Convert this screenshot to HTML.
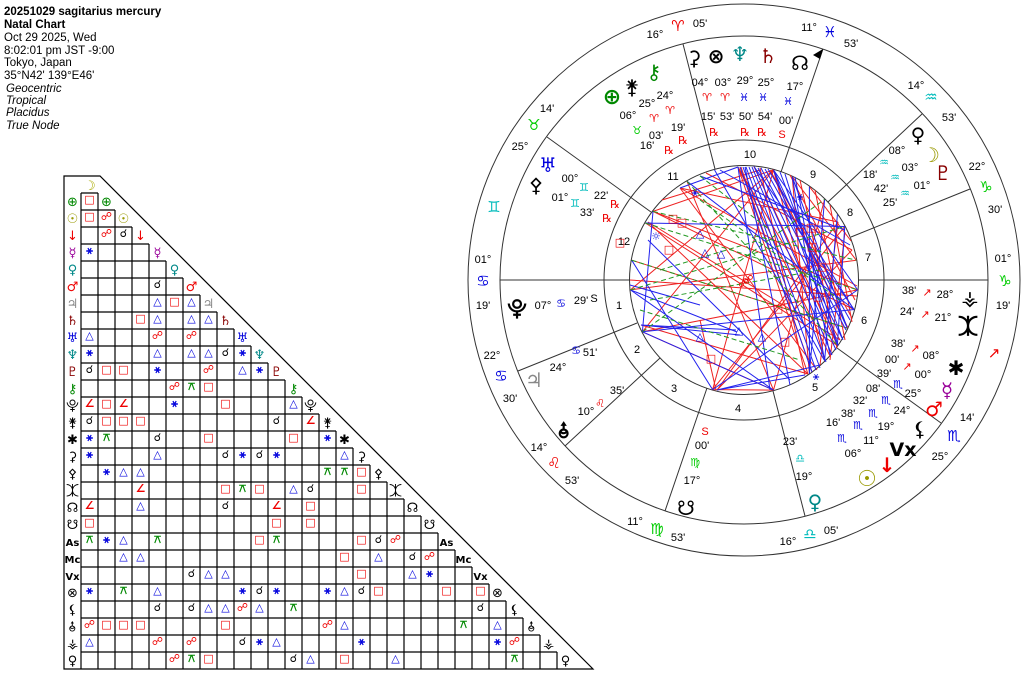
<!DOCTYPE html>
<html><head><meta charset="utf-8"><style>
html,body{margin:0;padding:0;background:#fff;}
svg{display:block;}
.h{font-family:"Liberation Sans",sans-serif;font-size:11.5px;fill:#000;}
.t{font-family:"Liberation Sans",sans-serif;font-size:11px;fill:#000;text-anchor:middle;}
.g{font-family:"DejaVu Sans",sans-serif;text-anchor:middle;}
.c text{font-family:"DejaVu Sans",sans-serif;font-size:11px;text-anchor:middle;font-weight:bold;}
.R{fill:#e00;}.B{fill:#00d;}.K{fill:#000;}.G{fill:#080;}
</style></head><body>
<svg width="1024" height="677" viewBox="0 0 1024 677" xmlns="http://www.w3.org/2000/svg">
<!-- header -->
<text class="h" x="4" y="15" font-weight="bold" font-size="13">20251029 sagitarius mercury</text>
<text class="h" x="4" y="28" font-weight="bold">Natal Chart</text>
<text class="h" x="4" y="41">Oct 29 2025, Wed</text>
<text class="h" x="4" y="54">8:02:01 pm  JST -9:00</text>
<text class="h" x="4" y="66">Tokyo, Japan</text>
<text class="h" x="4" y="79">35°N42' 139°E46'</text>
<text class="h" x="6" y="92" font-style="italic">Geocentric</text>
<text class="h" x="6" y="104" font-style="italic">Tropical</text>
<text class="h" x="6" y="116" font-style="italic">Placidus</text>
<text class="h" x="6" y="129" font-style="italic">True Node</text>

<!-- aspect grid -->
<g stroke="#000" stroke-width="1.2" fill="none">
<path d="M64 176H100L593 669H64Z"/>
<path d="M81 193h17M81 210h34M81 227h51M81 244h68M81 261h85M81 278h102M81 295h119M81 312h136M81 329h153M81 346h170M81 363h187M81 380h204M81 397h221M81 414h238M81 431h255M81 448h272M81 465h289M81 482h306M81 499h323M81 516h340M81 533h357M81 550h374M81 567h391M81 584h408M81 601h425M81 618h442M81 635h459M81 652h476"/>
<path d="M81 193V669M98 193V669M115 210V669M132 227V669M149 244V669M166 261V669M183 278V669M200 295V669M217 312V669M234 329V669M251 346V669M268 363V669M285 380V669M302 397V669M319 414V669M336 431V669M353 448V669M370 465V669M387 482V669M404 499V669M421 516V669M438 533V669M455 550V669M472 567V669M489 584V669M506 601V669M523 618V669M540 635V669M557 652V669"/>
</g>
<!-- row labels -->
<g class="g" font-size="13">
<text x="90" y="190" fill="#aa0">☽</text>
<text x="72.5" y="206" fill="#080">⊕</text><text x="106.5" y="206" fill="#080">⊕</text>
<text x="72.5" y="223" fill="#990">☉</text><text x="123.5" y="223" fill="#990">☉</text>
<text x="72.5" y="240" fill="#e00">↓</text><text x="140.5" y="240" fill="#e00">↓</text>
<text x="72.5" y="257" fill="#909">☿</text><text x="157.5" y="257" fill="#909">☿</text>
<text x="72.5" y="274" fill="#088">♀</text><text x="174.5" y="274" fill="#088">♀</text>
<text x="72.5" y="291" fill="#e00">♂</text><text x="191.5" y="291" fill="#e00">♂</text>
<text x="72.5" y="308" fill="#888">♃</text><text x="208.5" y="308" fill="#888">♃</text>
<text x="72.5" y="325" fill="#800">♄</text><text x="225.5" y="325" fill="#800">♄</text>
<text x="72.5" y="342" fill="#00d">♅</text><text x="242.5" y="342" fill="#00d">♅</text>
<text x="72.5" y="359" fill="#088">♆</text><text x="259.5" y="359" fill="#088">♆</text>
<text x="72.5" y="376" fill="#800">♇</text><text x="276.5" y="376" fill="#800">♇</text>
<text x="72.5" y="393" fill="#080">⚷</text><text x="293.5" y="393" fill="#080">⚷</text>
<g fill="#000">
<text x="72.5" y="410">⯓</text><text x="310.5" y="410">⯓</text>
<text x="72.5" y="427">⚵</text><text x="327.5" y="427">⚵</text>
<text x="72.5" y="444">✱</text><text x="344.5" y="444">✱</text>
<text x="72.5" y="461">⚳</text><text x="361.5" y="461">⚳</text>
<text x="72.5" y="478">⚴</text><text x="378.5" y="478">⚴</text>
<text x="72.5" y="495">⯰</text><text x="395.5" y="495">⯰</text>
<text x="72.5" y="512">☊</text><text x="412.5" y="512">☊</text>
<text x="72.5" y="529">☋</text><text x="429.5" y="529">☋</text>
<text x="72.5" y="546" font-size="10" font-weight="bold">As</text><text x="446.5" y="546" font-size="10" font-weight="bold">As</text>
<text x="72.5" y="563" font-size="10" font-weight="bold">Mc</text><text x="463.5" y="563" font-size="10" font-weight="bold">Mc</text>
<text x="72.5" y="580" font-size="10" font-weight="bold">Vx</text><text x="480.5" y="580" font-size="10" font-weight="bold">Vx</text>
<text x="72.5" y="597">⊗</text><text x="497.5" y="597">⊗</text>
<text x="72.5" y="614">⚸</text><text x="514.5" y="614">⚸</text>
<text x="72.5" y="631">⯗</text><text x="531.5" y="631">⯗</text>
<text x="72.5" y="648">⚶</text><text x="548.5" y="648">⚶</text>
<text x="72.5" y="665">♀</text><text x="565.5" y="665">♀</text>
</g></g>
<!-- aspects -->
<g class="c">
<text class="R" x="89.5" y="203">□</text>
<text class="R" x="89.5" y="220">□</text><text class="R" x="106.5" y="220">☍</text>
<text class="R" x="106.5" y="237">☍</text><text class="K" x="123.5" y="237">☌</text>
<text class="B" x="89.5" y="254">⚹</text>
<text class="K" x="157.5" y="288">☌</text>
<text class="B" x="157.5" y="305">△</text><text class="R" x="174.5" y="305">□</text><text class="B" x="191.5" y="305">△</text>
<text class="R" x="140.5" y="322">□</text><text class="B" x="157.5" y="322">△</text><text class="B" x="191.5" y="322">△</text><text class="B" x="208.5" y="322">△</text>
<text class="B" x="89.5" y="339">△</text><text class="R" x="157.5" y="339">☍</text><text class="R" x="191.5" y="339">☍</text>
<text class="B" x="89.5" y="356">⚹</text><text class="B" x="157.5" y="356">△</text><text class="B" x="191.5" y="356">△</text><text class="B" x="208.5" y="356">△</text><text class="K" x="225.5" y="356">☌</text><text class="B" x="242.5" y="356">⚹</text>
<text class="K" x="89.5" y="373">☌</text><text class="R" x="106.5" y="373">□</text><text class="R" x="123.5" y="373">□</text><text class="B" x="157.5" y="373">⚹</text><text class="R" x="208.5" y="373">☍</text><text class="B" x="242.5" y="373">△</text><text class="B" x="259.5" y="373">⚹</text>
<text class="R" x="174.5" y="390">☍</text><text class="G" x="191.5" y="390">⚻</text><text class="R" x="208.5" y="390">□</text>
<text class="R" x="89.5" y="407">∠</text><text class="R" x="106.5" y="407">□</text><text class="R" x="123.5" y="407">∠</text><text class="B" x="174.5" y="407">⚹</text><text class="R" x="225.5" y="407">□</text><text class="B" x="293.5" y="407">△</text>
<text class="K" x="89.5" y="424">☌</text><text class="R" x="106.5" y="424">□</text><text class="R" x="123.5" y="424">□</text><text class="R" x="140.5" y="424">□</text><text class="K" x="276.5" y="424">☌</text><text class="R" x="310.5" y="424">∠</text>
<text class="B" x="89.5" y="441">⚹</text><text class="G" x="106.5" y="441">⚻</text><text class="K" x="157.5" y="441">☌</text><text class="R" x="208.5" y="441">□</text><text class="R" x="293.5" y="441">□</text><text class="B" x="327.5" y="441">⚹</text>
<text class="B" x="89.5" y="458">⚹</text><text class="B" x="157.5" y="458">△</text><text class="K" x="225.5" y="458">☌</text><text class="B" x="242.5" y="458">⚹</text><text class="K" x="259.5" y="458">☌</text><text class="B" x="276.5" y="458">⚹</text><text class="B" x="344.5" y="458">△</text>
<text class="B" x="106.5" y="475">⚹</text><text class="B" x="123.5" y="475">△</text><text class="B" x="140.5" y="475">△</text><text class="G" x="327.5" y="475">⚻</text><text class="G" x="344.5" y="475">⚻</text><text class="R" x="361.5" y="475">□</text>
<text class="R" x="140.5" y="492">∠</text><text class="R" x="225.5" y="492">□</text><text class="G" x="242.5" y="492">⚻</text><text class="R" x="259.5" y="492">□</text><text class="B" x="293.5" y="492">△</text><text class="K" x="310.5" y="492">☌</text><text class="R" x="361.5" y="492">□</text>
<text class="R" x="89.5" y="509">∠</text><text class="B" x="140.5" y="509">△</text><text class="K" x="225.5" y="509">☌</text><text class="R" x="276.5" y="509">∠</text><text class="R" x="310.5" y="509">□</text>
<text class="R" x="89.5" y="526">□</text><text class="R" x="276.5" y="526">□</text><text class="R" x="310.5" y="526">□</text>
<text class="G" x="89.5" y="543">⚻</text><text class="B" x="106.5" y="543">⚹</text><text class="B" x="123.5" y="543">△</text><text class="G" x="157.5" y="543">⚻</text><text class="R" x="259.5" y="543">□</text><text class="G" x="276.5" y="543">⚻</text><text class="R" x="361.5" y="543">□</text><text class="K" x="378.5" y="543">☌</text><text class="R" x="395.5" y="543">☍</text>
<text class="B" x="123.5" y="560">△</text><text class="B" x="140.5" y="560">△</text><text class="R" x="344.5" y="560">□</text><text class="B" x="378.5" y="560">△</text><text class="K" x="412.5" y="560">☌</text><text class="R" x="429.5" y="560">☍</text>
<text class="K" x="191.5" y="577">☌</text><text class="B" x="208.5" y="577">△</text><text class="B" x="225.5" y="577">△</text><text class="R" x="361.5" y="577">□</text><text class="B" x="412.5" y="577">△</text><text class="B" x="429.5" y="577">⚹</text>
<text class="B" x="89.5" y="594">⚹</text><text class="G" x="123.5" y="594">⚻</text><text class="B" x="157.5" y="594">△</text><text class="B" x="242.5" y="594">⚹</text><text class="K" x="259.5" y="594">☌</text><text class="B" x="276.5" y="594">⚹</text><text class="B" x="327.5" y="594">⚹</text><text class="B" x="344.5" y="594">△</text><text class="K" x="361.5" y="594">☌</text><text class="R" x="378.5" y="594">□</text><text class="R" x="446.5" y="594">□</text><text class="R" x="480.5" y="594">□</text>
<text class="K" x="157.5" y="611">☌</text><text class="K" x="191.5" y="611">☌</text><text class="B" x="208.5" y="611">△</text><text class="B" x="225.5" y="611">△</text><text class="R" x="242.5" y="611">☍</text><text class="B" x="259.5" y="611">△</text><text class="G" x="293.5" y="611">⚻</text><text class="K" x="480.5" y="611">☌</text>
<text class="R" x="89.5" y="628">☍</text><text class="R" x="106.5" y="628">□</text><text class="R" x="123.5" y="628">□</text><text class="R" x="140.5" y="628">□</text><text class="R" x="225.5" y="628">□</text><text class="R" x="327.5" y="628">☍</text><text class="B" x="344.5" y="628">△</text><text class="G" x="463.5" y="628">⚻</text><text class="B" x="497.5" y="628">△</text>
<text class="B" x="89.5" y="645">△</text><text class="R" x="157.5" y="645">☍</text><text class="R" x="191.5" y="645">☍</text><text class="K" x="242.5" y="645">☌</text><text class="B" x="259.5" y="645">⚹</text><text class="B" x="276.5" y="645">△</text><text class="B" x="361.5" y="645">⚹</text><text class="B" x="497.5" y="645">⚹</text><text class="R" x="514.5" y="645">☍</text>
<text class="R" x="174.5" y="662">☍</text><text class="G" x="191.5" y="662">⚻</text><text class="R" x="208.5" y="662">□</text><text class="K" x="293.5" y="662">☌</text><text class="B" x="310.5" y="662">△</text><text class="R" x="344.5" y="662">□</text><text class="B" x="395.5" y="662">△</text><text class="G" x="514.5" y="662">⚻</text>
</g>

<!-- wheel -->
<g fill="none" stroke="#333" stroke-width="1">
<circle cx="744" cy="280" r="276"/>
<circle cx="744" cy="280" r="244"/>
<circle cx="744" cy="280" r="140"/>
<circle cx="744" cy="280" r="114.5"/>
<path d="M500 280H629.5M858.5 280H988"/>
<path d="M823 49L781 172M707 388L665 511"/>
<path d="M683 44L715 169M773 391L805 516"/>
<path d="M547 137L651 212M837 348L941 423"/>
<path d="M518 371L637 323M851 237L970 189"/>
<path d="M565 446L660 358M828 202L922 114"/>
</g>
<path d="M823 49l-10 6l7 4z" fill="#000"/>
<!-- house numbers -->
<g class="t" font-size="10">
<text x="750" y="158">10</text><text x="673" y="180">11</text><text x="813" y="178">9</text><text x="850" y="216">8</text>
<text x="868" y="261">7</text><text x="624" y="245">12</text><text x="619" y="309">1</text><text x="637" y="353">2</text>
<text x="674" y="392">3</text><text x="738" y="412">4</text><text x="815" y="391">5</text><text x="864" y="324">6</text>
</g>
<!-- outer ring labels -->
<g class="t">
<text x="655" y="38">16°</text><text x="700" y="27">05'</text>
<text x="809" y="31">11°</text><text x="851" y="47">53'</text>
<text x="916" y="89">14°</text><text x="949" y="121">53'</text>
<text x="977" y="170">22°</text><text x="995" y="213">30'</text>
<text x="1003" y="262">01°</text><text x="1003" y="309">19'</text>
<text x="967" y="421">14'</text><text x="940" y="460">25°</text>
<text x="831" y="534">05'</text><text x="788" y="545">16°</text>
<text x="678" y="541">53'</text><text x="635" y="525">11°</text>
<text x="572" y="484">53'</text><text x="539" y="451">14°</text>
<text x="510" y="402">30'</text><text x="492" y="359">22°</text>
<text x="483" y="309">19'</text><text x="483" y="263">01°</text>
<text x="520" y="150">25°</text><text x="547" y="112">14'</text>
</g>
<g class="g" font-size="15">
<text x="678" y="31" fill="#e00">♈</text>
<text x="830" y="37" fill="#00d">♓</text>
<text x="931" y="102" fill="#0bb">♒</text>
<text x="986" y="192" fill="#0c0">♑</text>
<text x="1005" y="286" fill="#0c0">♑</text>
<text x="954" y="441" fill="#00d">♏</text>
<text x="810" y="539" fill="#0bb">♎</text>
<text x="657" y="534" fill="#0c0">♍</text>
<text x="554" y="468" fill="#e00">♌</text>
<text x="501" y="381" fill="#00d">♋</text>
<text x="483" y="286" fill="#00d">♋</text>
<text x="534" y="130" fill="#0c0">♉</text>
<text x="494" y="212" fill="#0bb">♊</text>
<text x="994" y="358" fill="#e00">↗</text>
</g>
<!-- aspect lines -->
<g stroke-width="1" fill="none">
<g stroke="#e22">
<path d="M773.5 169.9L712.6 389.6M773.5 169.9L642.4 331.8M773.5 169.9L653 211.4M712.6 389.6L773.5 390.1M773.5 390.1L642.4 331.8M642.4 331.8L857.6 289.9M653 211.4L854.1 309.5M645.3 223L837.4 345.4M773.5 169.9L824.6 360.6M792.2 176.7L809.4 373.4M712.6 389.6L844.7 226.5M773.5 390.1L824.6 199.4M630.4 289.9L856.3 260.2M631.7 260.2L847.3 328.2M687 181.3L773.5 390.1M753.9 166.4L837.4 345.4M809.4 186.6L851.1 241M792.2 176.7L856.3 260.2M630.4 289.9L773.5 169.9M653 211.4L857.6 289.9"/>
<path d="M738 167L808 374M741 167L812 372M738 167L830 356M738 167L840 340M680 188L838 222M680 188L857 286M680 188L817 370M648 222L808 374M648 222L840 340M630 280L857 296M641 325L808 374M717 390L838 222M717 390L852 250M770 170L848 328M770 170L852 318M790 175L855 300M800 180L837 348M815 190L845 340M830 205L852 322M838 222L820 365M845 232L830 360M760 168L805 375M706 173L852 250M662 200L760 170M700 320L716 390"/>
</g>
<g stroke="#22e">
<path d="M773.5 169.9L847.3 328.2M773.5 169.9L837.4 345.4M792.2 176.7L824.6 360.6M809.4 186.6L809.4 373.4M753.9 166.4L854.1 309.5M714.5 169.9L824.6 360.6M645.3 223L844.7 226.5M642.4 331.8L773.5 390.1M630.4 289.9L773.5 390.1M631.7 260.2L712.6 389.6M712.6 389.6L857.6 289.9M642.4 331.8L854.1 309.5M824.6 199.4L809.4 373.4M837.4 214.6L824.6 360.6M844.7 226.5L837.4 345.4M687 181.3L854.1 309.5M792.2 176.7L847.3 328.2M773.5 169.9L857.6 289.9M653 211.4L642.4 331.8M630.4 289.9L737 332"/>
<path d="M740 167L812 372M743 167L816 370M746 167L820 368M749 167L826 362M752 167L832 355M755 168L836 350M758 168L842 338M761 168L846 330M765 169L850 320M768 169L854 310M780 172L843 340M785 174L838 345M795 177L830 355M738 167L770 390M745 167L790 385M738 167L680 188M641 325L736 330M641 325L740 335M630 285L700 305M648 240L790 380M700 176L845 230M720 170L850 245M717 390L805 375M717 390L820 365"/>
</g>
<g stroke="#292" stroke-dasharray="5,3">
<path d="M645.3 223L857.6 289.9M631.7 260.2L847.3 328.2M653 211.4L856.3 260.2M687 181.3L837.4 345.4M630.4 289.9L844.7 226.5M642.4 331.8L824.6 199.4M700 176L770 230M660 270L760 240M650 300L820 270M700 200L840 300M640 310L800 360"/>
</g>
</g>
<g class="g" font-size="11">
<text x="744" y="287" fill="#e00">☍</text><text x="748" y="283" fill="#e00">☍</text>
<text x="620" y="246" fill="#e00">□</text><text x="682" y="226" fill="#e00">□</text><text x="673" y="222" fill="#e00">□</text><text x="669" y="253" fill="#e00">□</text>
<text x="711" y="362" fill="#e00">□</text><text x="762" y="340" fill="#00d">△</text><text x="700" y="237" fill="#00d">△</text><text x="705" y="256" fill="#00d">△</text><text x="721" y="257" fill="#00d">△</text>
<text x="811" y="231" fill="#e00">□</text><text x="816" y="380" fill="#00d">⚹</text><text x="700" y="340" fill="#00d">△</text><text x="739" y="334" fill="#00d">△</text>
<text x="800" y="235" fill="#e00">□</text><text x="812" y="250" fill="#e00">□</text><text x="822" y="270" fill="#e00">□</text><text x="818" y="300" fill="#e00">□</text><text x="778" y="312" fill="#e00">□</text><text x="785" y="345" fill="#e00">□</text>
<text x="695" y="196" fill="#00d">⚹</text><text x="800" y="200" fill="#00d">⚹</text><text x="656" y="240" fill="#00d">☼</text>
</g>

<!-- planets -->
<g class="g" font-size="20" font-weight="bold">
<text x="694" y="65" fill="#000">⚳</text>
<text x="716" y="63" fill="#000">⊗</text>
<text x="740" y="61" fill="#088">♆</text>
<text x="768" y="63" fill="#800">♄</text>
<text x="800" y="70" fill="#000">☊</text>
<text x="612" y="104" fill="#080" font-size="22">⊕</text>
<text x="632" y="94" fill="#000">⚵</text>
<text x="654" y="79" fill="#080">⚷</text>
<text x="548" y="172" fill="#00d">♅</text>
<text x="536" y="192" fill="#000">⚴</text>
<text x="517" y="315" fill="#000">⯓</text>
<text x="534" y="387" fill="#888">♃</text>
<text x="564" y="437" fill="#000">⯗</text>
<text x="686" y="515" fill="#000">☋</text>
<text x="815" y="509" fill="#088">♀</text>
<text x="918" y="142" fill="#000">♀</text>
<text x="931" y="162" fill="#990">☽</text>
<text x="943" y="180" fill="#800">♇</text>
<text x="970" y="305" fill="#000">⚶</text>
<text x="968" y="333" fill="#000">⯰</text>
<text x="956" y="375" fill="#000">✱</text>
<text x="947" y="397" fill="#909">☿</text>
<text x="934" y="416" fill="#e00">♂</text>
<text x="920" y="436" fill="#000">⚸</text>
<text x="903" y="456" fill="#000" font-size="19">Vx</text>
<text x="887" y="472" fill="#e00">↓</text>
<text x="867" y="486" fill="#990" font-size="22">☉</text>
</g>
<g class="t" font-size="11">
<text x="700" y="86">04°</text><text x="723" y="86">03°</text><text x="745" y="84">29°</text><text x="766" y="86">25°</text><text x="795" y="90">17°</text>
<text x="708" y="120">15'</text><text x="727" y="120">53'</text><text x="746" y="120">50'</text><text x="765" y="120">54'</text><text x="786" y="124">00'</text>
<text x="665" y="99">24°</text><text x="647" y="107">25°</text><text x="628" y="119">06°</text>
<text x="678" y="131">19'</text><text x="656" y="139">03'</text><text x="647" y="149">16'</text>
<text x="570" y="182">00°</text><text x="560" y="201">01°</text><text x="601" y="199">22'</text><text x="587" y="216">33'</text>
<text x="543" y="309">07°</text><text x="581" y="304">29'</text>
<text x="590" y="356">51'</text><text x="558" y="371">24°</text>
<text x="617" y="394">35'</text><text x="586" y="415">10°</text>
<text x="702" y="449">00'</text><text x="692" y="484">17°</text>
<text x="790" y="445">23'</text><text x="804" y="480">19°</text>
<text x="897" y="154">08°</text><text x="910" y="171">03°</text><text x="870" y="178">18'</text><text x="922" y="189">01°</text><text x="881" y="192">42'</text><text x="890" y="206">25'</text>
<text x="909" y="294">38'</text><text x="945" y="298">28°</text>
<text x="907" y="315">24'</text><text x="943" y="321">21°</text>
<text x="898" y="347">38'</text><text x="931" y="359">08°</text>
<text x="892" y="363">00'</text><text x="923" y="378">00°</text>
<text x="884" y="377">39'</text><text x="913" y="397">25°</text>
<text x="873" y="392">08'</text><text x="902" y="414">24°</text>
<text x="860" y="404">32'</text><text x="886" y="430">19°</text>
<text x="848" y="417">38'</text><text x="871" y="444">11°</text>
<text x="833" y="426">16'</text><text x="853" y="457">06°</text>
</g>
<g class="g" font-size="11">
<text x="707" y="101" fill="#e00">♈</text><text x="725" y="101" fill="#e00">♈</text><text x="744" y="101" fill="#00d">♓</text><text x="763" y="101" fill="#00d">♓</text><text x="788" y="105" fill="#00d">♓</text>
<text x="670" y="114" fill="#e00">♈</text><text x="654" y="122" fill="#e00">♈</text><text x="637" y="134" fill="#0c0">♉</text>
<text x="584" y="191" fill="#0bb">♊</text><text x="575" y="207" fill="#0bb">♊</text>
<text x="561" y="307" fill="#00d">♋</text><text x="576" y="354" fill="#00d">♋</text><text x="600" y="407" fill="#e00">♌</text>
<text x="695" y="466" fill="#0c0">♍</text><text x="800" y="462" fill="#0bb">♎</text>
<text x="884" y="166" fill="#0bb">♒</text><text x="895" y="181" fill="#0bb">♒</text><text x="905" y="197" fill="#0bb">♒</text>
<text x="927" y="296" fill="#e00">↗</text><text x="925" y="318" fill="#e00">↗</text><text x="915" y="352" fill="#e00">↗</text><text x="907" y="370" fill="#e00">↗</text>
<text x="898" y="388" fill="#00d">♏</text><text x="886" y="404" fill="#00d">♏</text><text x="873" y="417" fill="#00d">♏</text><text x="858" y="429" fill="#00d">♏</text><text x="842" y="442" fill="#00d">♏</text>
</g>
<g class="t" font-size="10">
<text x="714" y="136" fill="#e00">℞</text><text x="745" y="136" fill="#e00">℞</text><text x="762" y="136" fill="#e00">℞</text><text x="782" y="138" fill="#e00">S</text>
<text x="683" y="144" fill="#e00">℞</text><text x="669" y="154" fill="#e00">℞</text>
<text x="615" y="208" fill="#e00">℞</text><text x="607" y="222" fill="#e00">℞</text>
<text x="594" y="302" fill="#000">S</text><text x="705" y="435" fill="#e00">S</text>
</g>
</svg>
</body></html>
